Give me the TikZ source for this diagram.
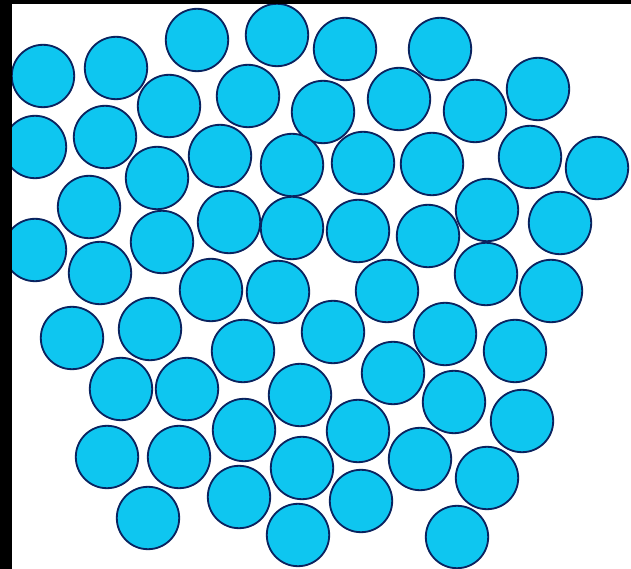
\documentclass[tikz,border=0pt]{standalone}
\usepackage{tikz}
\usetikzlibrary{positioning}
\definecolor{ballcyan}{RGB}{14, 198, 240}
\definecolor{ballrim}{RGB}{10, 35, 95}

\begin{document}
\begin{tikzpicture}[x=0.025cm, y=-0.025cm,
    ball/.style={circle, draw=ballrim, fill=ballcyan, line width=1.3pt, minimum size=1.56cm, inner sep=0pt}]
  % frame: white sheet with black strips left and top
  \useasboundingbox (0,0) rectangle (631,569);
  \fill[white] (0,0) rectangle (631,569);
  \fill[black] (0,0) rectangle (12,569);
  \fill[black] (0,0) rectangle (631,4);

  % particles
  \foreach \x/\y [count=\i] in {
      116/68, 197/40, 277/35, 345/49, 440/49,
      43/76, 169/106, 248/96, 323/112, 399/99, 475/111, 538/89,
      35/147, 105/137, 157/178, 220/156, 292/165, 363/163, 432/164, 530/157, 597/168,
      89/207, 229/222, 292/228, 358/231, 428/236, 487/210, 560/223,
      35/250, 162/242, 100/273, 211/290, 278/292, 387/291, 486/274, 551/291,
      72/338, 150/329, 243/351, 333/332, 445/334, 515/351,
      121/389, 187/389, 300/395, 393/373, 454/402, 522/421,
      244/430, 358/431, 107/457, 179/457, 302/468, 420/459, 487/478,
      239/497, 361/501, 148/518, 298/535, 457/537}
    \node[ball] (p\i) at (\x,\y) {};

  % left strip covers balls cut at the edge
  \fill[black] (0,0) rectangle (12,569);
  \fill[black] (0,0) rectangle (631,4);
\end{tikzpicture}
\end{document}
